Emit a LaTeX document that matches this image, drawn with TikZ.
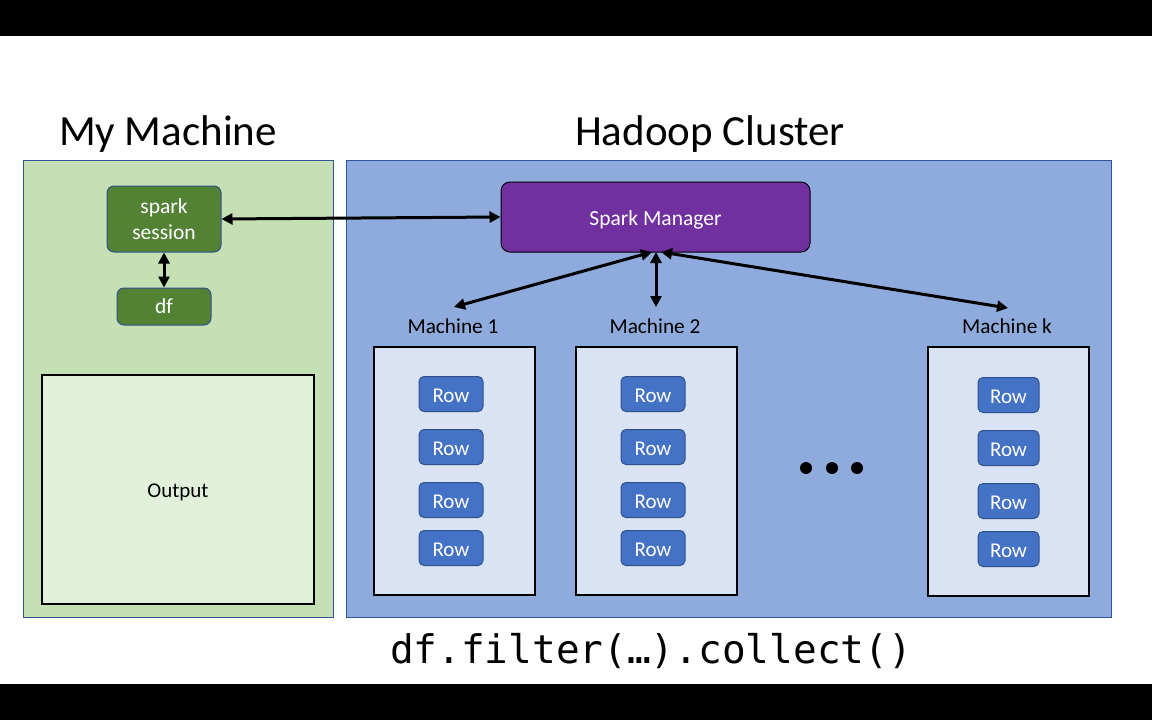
\documentclass[tikz,border=0pt]{standalone}
\usepackage{fontspec}
\setmainfont{Carlito}
\newfontfamily\codefont{DejaVu Sans Mono}
\usetikzlibrary{arrows.meta}
\definecolor{mmfill}{HTML}{C5E0B4}
\definecolor{hcfill}{HTML}{8FAADC}
\definecolor{panelborder}{HTML}{2F5597}
\definecolor{darkgreen}{HTML}{548235}
\definecolor{sparkpurple}{HTML}{7030A0}
\definecolor{machfill}{HTML}{DAE3F3}
\definecolor{rowfill}{HTML}{4472C4}
\definecolor{rowborder}{HTML}{2F528F}
\definecolor{outfill}{HTML}{E2F0D9}
\newcommand{\lowertext}[2]{\raisebox{-#1}[\height][\depth]{#2}}
\tikzset{
  panel/.style={draw=panelborder, line width=0.8pt},
  greenbox/.style={draw=rowborder, fill=darkgreen, rounded corners=7pt, line width=1pt, text=white, font=\fontsize{21.5}{26}\selectfont, align=center, inner sep=0pt},
  mgrbox/.style={draw=black, fill=sparkpurple, rounded corners=9pt, line width=1pt, text=white, font=\fontsize{21.5}{26}\selectfont, inner sep=0pt},
  machbox/.style={draw=black, fill=machfill, line width=2pt, inner sep=0pt},
  rowbox/.style={draw=rowborder, fill=rowfill, rounded corners=5pt, line width=1pt, text=white, font=\fontsize{21}{25}\selectfont, inner sep=0pt, minimum width=64pt, minimum height=35pt},
  mlabel/.style={font=\fontsize{21.3}{25}\selectfont, text=black},
  title/.style={font=\fontsize{43}{50}\selectfont, text=black},
  biarrow/.style={{Triangle[length=11pt,width=11pt]}-{Triangle[length=11pt,width=11pt]}, line width=3pt},
}
\begin{document}
\begin{tikzpicture}[x=1pt,y=-1pt]
\useasboundingbox (0,0) rectangle (1152,720);
\fill[white] (0,0) rectangle (1152,720);
\fill[black] (0,0) rectangle (1152,36);
\fill[black] (0,684) rectangle (1152,720);

% titles
\node[title] (tmm) at (168,134) {My Machine};
\node[title] (thc) at (710,134) {Hadoop Cluster};

% panels
\draw[panel, fill=mmfill] (23,160) rectangle (333,617);
\draw[panel, fill=hcfill] (346,160) rectangle (1111,617);

% my machine
\node[greenbox, minimum width=114pt, minimum height=66pt] (ss) at (164,219) {spark\\session};
\node[greenbox, minimum width=94pt, minimum height=37pt] (df) at (164,306.5) {df};
\node[draw=black, line width=2pt, fill=outfill, minimum width=272pt, minimum height=229pt, inner sep=0pt, font=\fontsize{21}{25}\selectfont] (out) at (178,489.5) {\lowertext{3pt}{Output}};

% spark manager
\node[mgrbox, minimum width=309pt, minimum height=70pt] (mgr) at (655.5,217) {\lowertext{3pt}{Spark Manager}};

% machines
\node[machbox, minimum width=161pt, minimum height=248pt] (m1) at (454.5,471) {};
\node[machbox, minimum width=161pt, minimum height=248pt] (m2) at (656.5,471) {};
\node[machbox, minimum width=161pt, minimum height=249pt] (mk) at (1008.5,471.5) {};
\node[mlabel] (l1) at (453,326) {Machine 1};
\node[mlabel] (l2) at (655,326) {Machine 2};
\node[mlabel] (lk) at (1007,326) {Machine k};

% rows
\foreach \i/\y in {1/394,2/447,3/500,4/548}{
  \node[rowbox] (r1\i) at (451,\y) {\lowertext{1.5pt}{Row}};
  \node[rowbox] (r2\i) at (653,\y) {\lowertext{1.5pt}{Row}};
  \node[rowbox, minimum width=61pt] (rk\i) at (1008.5,\y+1) {\lowertext{1.5pt}{Row}};
}

% dots
\fill (806,468) circle (6pt);
\fill (832,468) circle (6pt);
\fill (857,468) circle (6pt);

% connector endpoints
\coordinate (a1) at (652,252);
\coordinate (a2) at (656,252);
\coordinate (ak) at (661,252);
\coordinate (e1) at (454,307);
\coordinate (e2) at (656,307);
\coordinate (ek) at (1008,308);

% arrows
\draw[biarrow] (ss.south) -- (df.north);
\draw[biarrow] (ss.east) -- (mgr.west);
\draw[biarrow] (a1) -- (e1);
\draw[biarrow] (a2) -- (e2);
\draw[biarrow] (ak) -- (ek);

% code
\node[font=\codefont\fontsize{39.4}{44}\selectfont] (code) at (651,651) {df.filter(…).collect()};
\end{tikzpicture}
\end{document}
